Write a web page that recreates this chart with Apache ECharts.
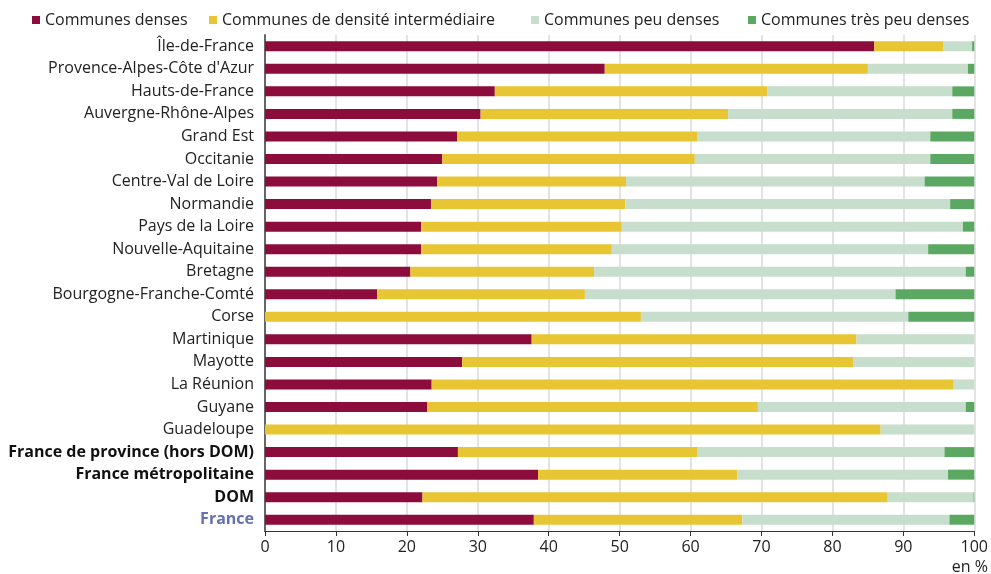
<!DOCTYPE html>
<html><head><meta charset="utf-8">
<script src="https://cdn.jsdelivr.net/npm/echarts@6/dist/echarts.min.js"></script>
<style>html,body{margin:0;padding:0;background:#fff}#c{width:991px;height:574px}</style>
</head><body><div id="c"></div>
<script>
const categories = ["Île-de-France","Provence-Alpes-Côte d'Azur","Hauts-de-France","Auvergne-Rhône-Alpes","Grand Est","Occitanie","Centre-Val de Loire","Normandie","Pays de la Loire","Nouvelle-Aquitaine","Bretagne","Bourgogne-Franche-Comté","Corse","Martinique","Mayotte","La Réunion","Guyane","Guadeloupe","France de province (hors DOM)","France métropolitaine","DOM","France"];
const seriesNames = ["Communes denses","Communes de densité intermédiaire","Communes peu denses","Communes très peu denses"];
const denses = [85.9,47.9,32.4,30.4,27.1,25.0,24.3,23.4,22.0,22.0,20.5,15.8,0,37.6,27.8,23.5,22.9,0,27.2,38.5,22.2,37.9];
const intermediaire = [9.7,37.1,38.4,34.9,33.9,35.6,26.6,27.4,28.3,26.9,25.9,29.3,53.0,45.8,55.1,73.6,46.6,86.8,33.8,28.1,65.6,29.4];
const peuDenses = [4.1,14.1,26.1,31.6,32.8,33.2,42.1,45.8,48.1,44.6,52.4,43.8,37.7,16.6,17.1,2.9,29.3,13.2,34.8,29.7,12.1,29.2];
const tresPeuDenses = [0.3,0.9,3.1,3.1,6.2,6.2,7.0,3.4,1.6,6.5,1.2,11.1,9.3,0,0,0,1.2,0,4.2,3.7,0.1,3.5];
const xTicks = [0,10,20,30,40,50,60,70,80,90,100];

const colors = ['#8C0C3C','#E8C633','#C6DECB','#5AA862'];
const values = [denses, intermediaire, peuDenses, tresPeuDenses];
const chart = echarts.init(document.getElementById('c'));
const font = "'Open Sans', sans-serif";
const legendLefts = [27, 204, 526, 743];
chart.setOption({
  animation:false,
  textStyle:{fontFamily:font},
  legend: seriesNames.map((n,i)=>({
    data:[n], left:legendLefts[i], top:7, itemWidth:8, itemHeight:8, itemGap:0,
    icon:'rect', textStyle:{fontSize:16, color:'#222', fontFamily:font}
  })),
  grid:{left:265, right:12, top:35, bottom:43, containLabel:false},
  xAxis:{type:'value', min:0, max:100, interval:10,
    axisLine:{show:true, lineStyle:{color:'#333'}},
    axisTick:{show:true, length:5, lineStyle:{color:'#333'}},
    axisLabel:{fontSize:16, color:'#222', margin:8, fontFamily:font, formatter:v=>xTicks.includes(v)?String(v):''},
    splitLine:{show:true, lineStyle:{color:'#e3e3e3', width:2}}
  },
  yAxis:{type:'category', data:categories, inverse:true,
    axisLine:{show:true, lineStyle:{color:'#666', width:2}},
    axisTick:{show:false},
    axisLabel:{fontSize:16, color:'#222', margin:11, fontFamily:font,
      formatter:(v,i)=>{ if(v==='France') return '{f|'+v+'}'; if(i>=18) return '{b|'+v+'}'; return v; },
      rich:{b:{fontWeight:'bold', fontSize:16, color:'#111', fontFamily:font}, f:{fontWeight:'bold', fontSize:16, color:'#6570B2', fontFamily:font}}
    }
  },
  series: seriesNames.map((n,i)=>({
    name:n, type:'bar', stack:'t', data:values[i], barWidth:10,
    itemStyle:{color:colors[i]}
  })),
  graphic:[{type:'text', right:3, top:559, style:{text:'en %', fontSize:16, fill:'#222', fontFamily:font}}]
});
</script></body></html>
